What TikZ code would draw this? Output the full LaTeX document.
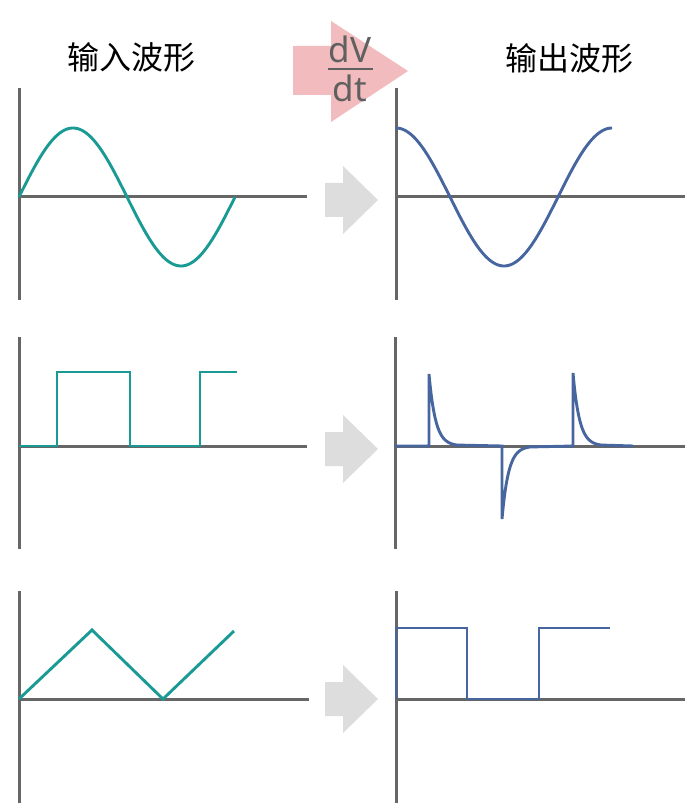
\documentclass[tikz,border=0pt]{standalone}
\usepackage{fontspec}
\setmainfont{Noto Sans}
\newfontfamily\cjk{Noto Sans CJK SC}
\definecolor{axisgray}{HTML}{666666}
\definecolor{wavein}{HTML}{1A9A94}
\definecolor{waveout}{HTML}{4766A0}
\definecolor{pinkarrow}{HTML}{F2BCBE}
\definecolor{grayarrow}{HTML}{DDDDDD}
\definecolor{fractext}{HTML}{606060}
\tikzset{
  axisline/.style={draw=axisgray, line width=3pt},
  inwave/.style={draw=wavein, line width=2.9pt, line join=miter},
  outwave/.style={draw=waveout, line width=2.9pt, line join=miter},
  titletext/.style={font=\cjk\fontsize{32}{32}\selectfont, text=black, inner sep=0pt},
  fractxt/.style={font=\fontsize{35}{35}\selectfont, text=fractext, inner sep=0pt},
}
\newcommand\myarrowshape[1]{%
  \fill[grayarrow] (325,#1-17) -- (343,#1-17) -- (343,#1-34) -- (378,#1) -- (343,#1+34) -- (343,#1+17) -- (325,#1+17) -- cycle;}
\begin{document}
\begin{tikzpicture}[x=1pt,y=-1pt]
\useasboundingbox (0,0) rectangle (700,810);
\fill[white] (0,0) rectangle (700,810);

% titles
\node[titletext] (tin) at (131,57) {输入波形};
\node[titletext] (tout) at (569,58) {输出波形};

% pink derivative arrow
\fill[pinkarrow] (293,46) -- (331,46) -- (331,21) -- (408,71) -- (331,122) -- (331,95) -- (293,95) -- cycle;
\node[fractxt, anchor=base] (dv) at (350,63) {dV};
\node[fractxt, anchor=base] (dt) at (350,102) {dt};
\coordinate (fl) at (328,69);
\coordinate (fr) at (373,69);
\draw[fractext, line width=2.5pt] (fl) -- (fr);

% gray arrows
\myarrowshape{200}
\myarrowshape{449}
\myarrowshape{699}

% ---------- row 1 ----------
\coordinate (a1l) at (19,88);  \coordinate (a1b) at (19,300);
\coordinate (h1l) at (19,197); \coordinate (h1r) at (307,197);
\coordinate (a1rl) at (396,88); \coordinate (a1rb) at (396,300);
\coordinate (h1rl) at (396,197); \coordinate (h1rr) at (685,197);
\draw[axisline] (a1l) -- (a1b);
\draw[axisline] (h1l) -- (h1r);
\draw[axisline] (a1rl) -- (a1rb);
\draw[axisline] (h1rl) -- (h1rr);
\draw[inwave] plot[domain=19:235, samples=120, smooth] (\x, {197 - 69*sin((\x-19)/216*360)});
\draw[outwave] plot[domain=396:612, samples=120, smooth] (\x, {197 - 69*cos((\x-396)/216*360)});

% ---------- row 2 ----------
\coordinate (a2l) at (19,337);  \coordinate (a2b) at (19,549);
\coordinate (h2l) at (19,446); \coordinate (h2r) at (307,446);
\coordinate (a2rl) at (395,337); \coordinate (a2rb) at (395,549);
\coordinate (h2rl) at (395,446); \coordinate (h2rr) at (685,446);
\draw[axisline] (a2l) -- (a2b);
\draw[axisline] (h2l) -- (h2r);
\draw[axisline] (a2rl) -- (a2rb);
\draw[axisline] (h2rl) -- (h2rr);
\draw[inwave] (19,446) -- (57,446) -- (57,372) -- (130,372) -- (130,446) -- (200,446) -- (200,372) -- (237,372);
\draw[outwave] (395,446) -- (429,446) -- (429,374)
  -- plot[domain=429:457, samples=60] (\x, {446-72*exp(-(\x-429)/6.5)})
  -- (502,446) -- (502,519)
  -- plot[domain=502:530, samples=60] (\x, {446+73*exp(-(\x-502)/6.5)})
  -- (573,446) -- (573,373)
  -- plot[domain=573:601, samples=60] (\x, {446-73*exp(-(\x-573)/6.5)})
  -- (633,446);

% ---------- row 3 ----------
\coordinate (a3l) at (19,591);  \coordinate (a3b) at (19,803);
\coordinate (h3l) at (19,699); \coordinate (h3r) at (309,699);
\coordinate (a3rl) at (396,591); \coordinate (a3rb) at (396,803);
\coordinate (h3rl) at (396,699); \coordinate (h3rr) at (685,699);
\draw[axisline] (a3l) -- (a3b);
\draw[axisline] (h3l) -- (h3r);
\draw[axisline] (a3rl) -- (a3rb);
\draw[axisline] (h3rl) -- (h3rr);
\draw[inwave] (19,699) -- (92,630) -- (163,699) -- (234,631);
\draw[outwave] (396,699) -- (396,628) -- (467,628) -- (467,699) -- (539,699) -- (539,628) -- (610,628);
\end{tikzpicture}
\end{document}
